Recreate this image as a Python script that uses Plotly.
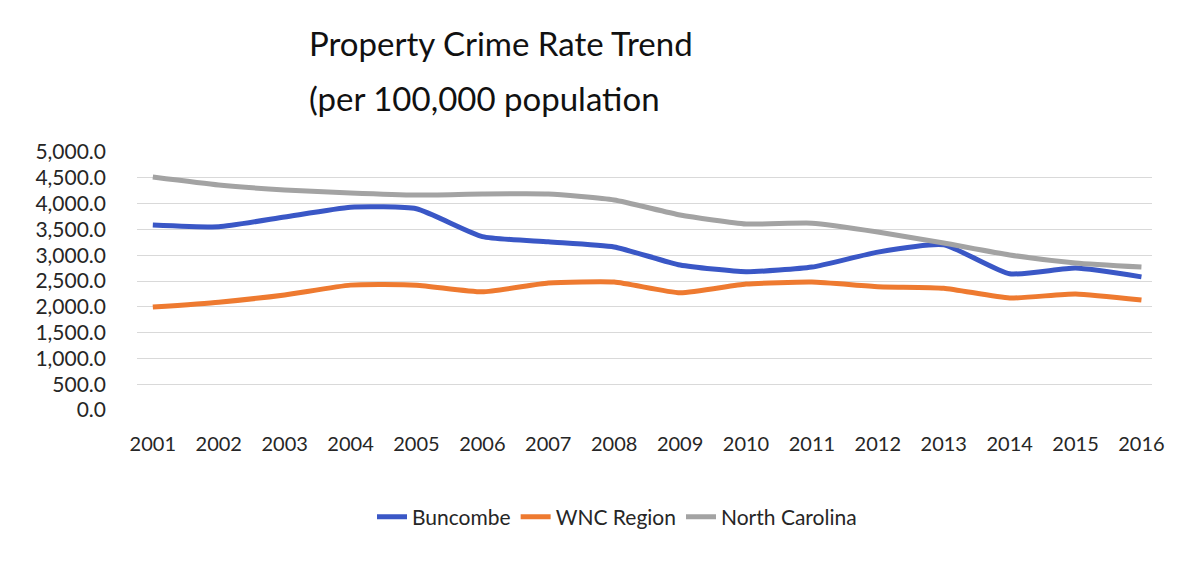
import plotly.graph_objects as go

# Property crime rate per 100,000 population, 2001-2016
years = ["2001", "2002", "2003", "2004", "2005", "2006", "2007", "2008",
         "2009", "2010", "2011", "2012", "2013", "2014", "2015", "2016"]
buncombe = [3585, 3550, 3740, 3930, 3900, 3360, 3260, 3160,
            2810, 2680, 2770, 3060, 3200, 2640, 2750, 2580]
wnc_region = [1995, 2090, 2230, 2420, 2420, 2290, 2460, 2480,
              2270, 2440, 2480, 2390, 2360, 2170, 2250, 2130]
north_carolina = [4515, 4360, 4265, 4205, 4165, 4185, 4185, 4070,
                  3780, 3605, 3620, 3450, 3235, 3005, 2850, 2770]
y_ticks = [0, 500, 1000, 1500, 2000, 2500, 3000, 3500, 4000, 4500, 5000]

series = [
    ("Buncombe", buncombe, "#3A57C6"),
    ("WNC Region", wnc_region, "#EE7A30"),
    ("North Carolina", north_carolina, "#A3A3A3"),
]

FONT = "Lato"

# plot area in pixels
L, R, T, B = 137, 38, 152, 151
PW, PH = 1190 - L - R, 561 - T - B

fig = go.Figure()
for name, vals, color in series:
    fig.add_trace(go.Scatter(
        x=list(range(len(years))), y=vals, name=name, mode="lines",
        line=dict(color=color, width=5, shape="spline", smoothing=0.5),
    ))

title_lines = [("Property Crime Rate Trend", 43), ("(per 100,000 population", 98)]
annotations = [
    dict(text=txt, x=(307 - L) / PW, y=(561 - B - ypx) / PH, xref="paper", yref="paper",
         xanchor="left", yanchor="middle", showarrow=False,
         font=dict(size=33, family=FONT, color="#111111"))
    for txt, ypx in title_lines
]

fig.update_layout(
    width=1190, height=561,
    margin=dict(l=L, r=R, t=T, b=B),
    paper_bgcolor="white", plot_bgcolor="white",
    font=dict(family=FONT, color="#262626"),
    showlegend=True,
    legend=dict(orientation="h", x=(617 - L) / PW, xanchor="center",
                y=(410 - 517) / PH, yanchor="middle",
                font=dict(size=21, family=FONT, color="#262626"),
                itemwidth=30, tracegroupgap=0),
    annotations=annotations,
)

fig.update_xaxes(
    range=[-0.24, 15.16], tickmode="array", tickvals=list(range(len(years))),
    ticktext=years, showgrid=False, zeroline=False, showline=False,
    tickfont=dict(size=20, family=FONT, color="#262626"), ticklabelstandoff=20,
)
fig.update_yaxes(
    range=[0, 5000], tickmode="array", tickvals=y_ticks,
    ticktext=[f"{v:,.1f}" for v in y_ticks],
    showgrid=True, gridcolor="#D9D9D9", gridwidth=1, zeroline=False, showline=False,
    tickfont=dict(size=21, family=FONT, color="#262626"), ticklabelstandoff=30,
)

fig.write_html("out.html")
